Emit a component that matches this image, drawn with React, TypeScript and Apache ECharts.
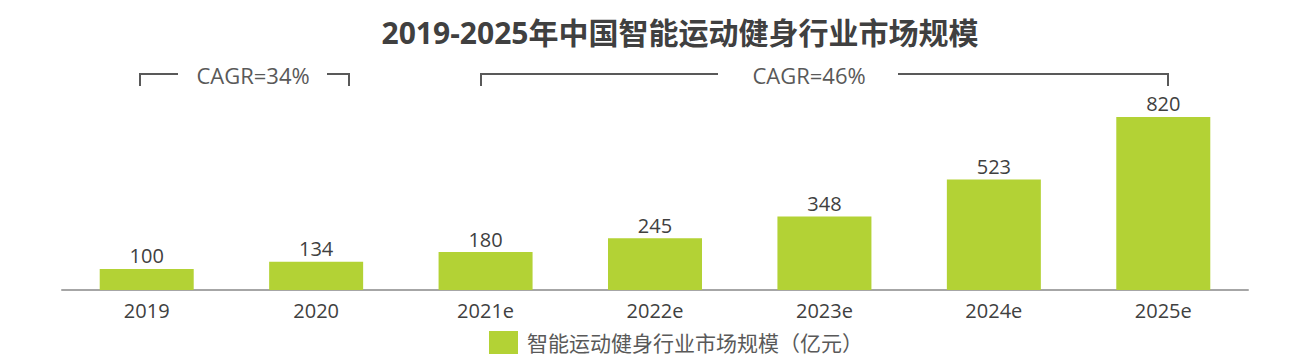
import React, { useEffect, useRef } from "react";
import * as echarts from "echarts";

const categories = ["2019", "2020", "2021e", "2022e", "2023e", "2024e", "2025e"];
const marketSize = [100, 134, 180, 245, 348, 523, 820];
const seriesName = "智能运动健身行业市场规模（亿元）";
const titleText = "2019-2025年中国智能运动健身行业市场规模";
const cagrLabels = ["CAGR=34%", "CAGR=46%"];

const FONT = "'Open Sans', 'Noto Sans CJK SC', sans-serif";
const LINE = "#595959";

export default function App() {
  const ref = useRef<HTMLDivElement>(null);
  useEffect(() => {
    if (!ref.current) return;
    const chart = echarts.init(ref.current, null, { renderer: "svg" });
    const bracketStyle = { stroke: LINE, lineWidth: 2, fill: "none" };
    chart.setOption({
      animation: false,
      backgroundColor: "#ffffff",
      textStyle: { fontFamily: FONT },
      grid: { left: 62, right: 58, top: 100, bottom: 68 },
      legend: {
        left: 484,
        top: 326,
        itemWidth: 29,
        itemHeight: 23,
        itemGap: 10,
        icon: "rect",
        textStyle: { fontSize: 21, color: "#595959", fontFamily: FONT, padding: [0, 0, 0, 4] },
        data: [seriesName],
      },
      xAxis: {
        type: "category",
        data: categories,
        axisLine: { lineStyle: { color: "#a6a6a6", width: 2 } },
        axisTick: { show: false },
        axisLabel: { fontSize: 20, color: "#404040", margin: 10, fontFamily: FONT },
      },
      yAxis: {
        type: "value",
        min: 0,
        max: 900,
        show: false,
        splitLine: { show: false },
      },
      series: [
        {
          name: seriesName,
          type: "bar",
          data: marketSize,
          barWidth: 94,
          itemStyle: { color: "#b3d235" },
          label: {
            show: true,
            position: "top",
            distance: 3,
            fontSize: 20,
            color: "#404040",
            fontFamily: FONT,
          },
        },
      ],
      graphic: [
        {
          type: "text",
          x: 680,
          y: 32,
          style: {
            text: titleText,
            fontSize: 30,
            fontWeight: "bold",
            fill: "#404040",
            align: "center",
            verticalAlign: "middle",
            fontFamily: FONT,
          },
        },
        { type: "polyline", shape: { points: [[140, 86], [140, 74], [178, 74]] }, style: bracketStyle },
        { type: "polyline", shape: { points: [[327, 74], [349, 74], [349, 86]] }, style: bracketStyle },
        {
          type: "text",
          x: 253,
          y: 75,
          style: { text: cagrLabels[0], fontSize: 22, fill: LINE, align: "center", verticalAlign: "middle", fontFamily: FONT },
        },
        { type: "polyline", shape: { points: [[481, 86], [481, 74], [718, 74]] }, style: bracketStyle },
        { type: "polyline", shape: { points: [[898, 74], [1168, 74], [1168, 86]] }, style: bracketStyle },
        {
          type: "text",
          x: 809,
          y: 75,
          style: { text: cagrLabels[1], fontSize: 22, fill: LINE, align: "center", verticalAlign: "middle", fontFamily: FONT },
        },
      ],
    });
    return () => chart.dispose();
  }, []);
  return (
    <div
      ref={ref}
      style={{ position: "fixed", left: 0, top: 0, width: 1306, height: 358 }}
    />
  );
}
